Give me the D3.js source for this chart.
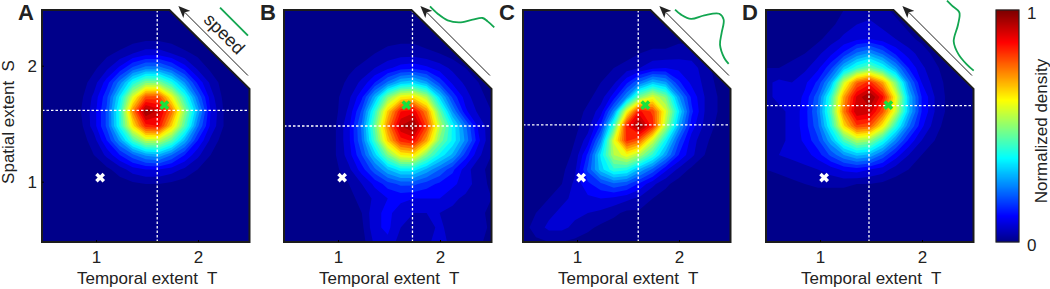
<!DOCTYPE html>
<html>
<head>
<meta charset="utf-8">
<script src="https://cdn.jsdelivr.net/npm/d3@7"></script>
<style>
  html, body { margin: 0; padding: 0; background: #fff; }
  text { font-family: "Liberation Sans", Arial, sans-serif; fill: #222; white-space: pre; }
</style>
</head>
<body>
<div id="chart"></div>
<script>
// density grids, 0-100, 17 rows (top to bottom) by 17 columns (left to right)
var densityA = [
    [0,0,0,0,0,0,0,0,0,0,0,0,0,0,0,0,0],
    [0,0,0,0,0,0,0,0,0,0,0,0,0,0,0,0,0],
    [0,0,0,0,0,0,0,1,2,2,1,0,0,0,0,0,0],
    [0,0,0,0,0,2,4,7,9,9,7,4,2,0,0,0,0],
    [0,0,0,0,2,6,12,20,25,25,20,13,6,2,0,0,0],
    [0,0,0,1,5,13,25,40,50,50,40,27,14,6,1,0,0],
    [0,0,0,2,8,18,36,60,80,81,62,42,23,9,2,0,0],
    [0,0,0,3,9,20,41,75,100,93,77,52,30,11,3,0,0],
    [0,0,0,2,9,20,40,65,85,87,67,46,24,10,3,0,0],
    [0,0,0,1,5,15,28,44,56,56,46,30,15,6,1,0,0],
    [0,0,0,0,3,8,15,22,28,30,23,15,8,3,0,0,0],
    [0,0,0,0,0,2,5,9,11,11,9,6,3,0,0,0,0],
    [0,0,0,0,0,0,1,2,3,3,2,1,0,0,0,0,0],
    [0,0,0,0,0,0,0,0,0,0,0,0,0,0,0,0,0],
    [0,0,0,0,0,0,0,0,0,0,0,0,0,0,0,0,0],
    [0,0,0,0,0,0,0,0,0,0,0,0,0,0,0,0,0],
    [0,0,0,0,0,0,0,0,0,0,0,0,0,0,0,0,0]
];
var densityB = [
    [0,0,0,0,0,0,0,0,0,0,0,0,0,0,0,0,0],
    [0,0,0,0,0,0,0,0,0,0,0,0,0,0,0,0,0],
    [0,0,0,0,0,0,0,1,2,2,2,1,1,0,0,0,0],
    [0,0,0,0,0,0,1,3,4,5,5,4,3,1,0,0,0],
    [0,0,0,0,0,2,4,7,10,13,14,12,9,6,3,1,0],
    [0,0,0,0,1,4,8,15,24,32,34,28,18,10,6,3,1],
    [0,0,0,0,2,6,14,30,50,63,65,55,34,18,9,4,2],
    [0,0,0,0,2,8,20,42,68,87,90,75,48,27,12,6,3],
    [0,0,0,0,3,10,24,48,75,95,100,82,56,38,24,10,4],
    [0,0,0,0,3,10,23,44,68,85,88,72,50,38,26,12,3],
    [0,0,0,0,3,9,19,33,50,63,65,50,38,30,17,8,3],
    [0,0,0,0,2,6,13,22,31,37,37,30,23,16,9,4,2],
    [0,0,0,0,1,3,7,12,17,20,20,17,14,12,9,5,2],
    [0,0,0,0,0,2,4,8,11,12,11,11,11,8,6,5,3],
    [0,0,0,0,0,1,3,10,12,9,7,7,7,6,5,4,2],
    [0,0,0,0,0,0,2,10,12,7,5,5,8,5,5,5,2],
    [0,0,0,0,0,0,1,8,10,5,4,5,11,4,5,4,1]
];
var densityC = [
    [0,0,0,0,0,0,0,0,0,0,0,0,0,0,0,0,0],
    [0,0,0,0,0,0,0,0,0,0,0,0,0,0,0,0,0],
    [0,0,0,0,0,0,0,0,0,0,1,1,2,2,0,0,0],
    [0,0,0,0,0,0,0,1,1,3,4,4,5,5,2,0,0],
    [0,0,0,0,0,0,1,3,5,7,10,11,10,9,5,1,0],
    [0,0,0,0,0,1,3,6,14,24,32,28,16,10,6,2,0],
    [0,0,0,0,0,2,5,13,27,50,60,50,28,14,7,3,0],
    [0,0,0,0,1,4,9,26,62,88,82,60,36,16,7,3,0],
    [0,0,0,0,2,5,16,44,86,100,85,55,30,13,6,2,0],
    [0,0,0,1,3,9,26,60,84,78,58,38,20,9,4,1,0],
    [0,0,0,1,4,16,36,55,62,54,42,28,15,8,3,0,0],
    [0,0,0,2,6,20,33,42,40,30,22,12,6,2,1,0,0],
    [0,0,1,3,8,14,18,22,20,14,8,4,1,0,0,0,0],
    [0,1,3,6,8,10,11,10,8,6,3,1,0,0,0,0,0],
    [1,3,6,8,8,7,6,4,2,2,0,0,0,0,0,0,0],
    [1,5,8,8,6,4,2,1,0,0,0,0,0,0,0,0,0],
    [0,2,3,3,2,1,0,0,0,0,0,0,0,0,0,0,0]
];
var densityD = [
    [0,0,0,0,0,1,3,4,5,4,2,1,0,0,0,0,0],
    [0,0,0,0,1,2,5,7,8,6,4,2,0,0,0,0,0],
    [0,0,0,1,2,5,8,10,11,9,7,4,2,0,0,0,0],
    [1,1,2,3,6,10,16,24,28,22,14,9,5,2,0,0,0],
    [3,3,4,6,10,18,32,42,48,40,28,15,8,4,1,0,0],
    [6,8,7,10,16,30,58,78,85,72,50,25,11,5,2,0,0],
    [6,8,8,12,22,42,72,92,100,88,62,32,15,7,2,0,0],
    [4,6,8,13,24,45,76,95,93,80,58,32,15,7,2,0,0],
    [4,6,8,13,22,40,66,82,80,64,42,24,12,5,1,0,0],
    [4,6,8,12,18,30,45,55,52,40,26,14,7,3,0,0,0],
    [4,7,8,9,13,20,27,32,30,22,13,7,3,1,0,0,0],
    [3,4,5,6,7,9,12,13,11,9,5,3,1,0,0,0,0],
    [0,1,2,3,4,4,4,3,3,2,1,0,0,0,0,0,0],
    [0,0,0,0,0,0,0,0,0,0,0,0,0,0,0,0,0],
    [0,0,0,0,0,0,0,0,0,0,0,0,0,0,0,0,0],
    [0,0,0,0,0,0,0,0,0,0,0,0,0,0,0,0,0],
    [0,0,0,0,0,0,0,0,0,0,0,0,0,0,0,0,0]
];

var panelNames = ["A", "B", "C", "D"];
var panelDensity = [densityA, densityB, densityC, densityD];

// medians (dashed lines) per panel, in T and S units
var medianT = [1.6, 1.73, 1.6, 1.48];
var medianS = [1.615, 1.48, 1.49, 1.655];

// the two crosses
var whiteCross = [1.04, 1.035];
var greenCross = [1.67, 1.66];

// speed arrow, in T and S units
var arrowT = [2.49, 1.87];
var arrowS = [1.915, 2.46];

// green speed profiles, in T and S units
var speedT = [
    [2.216, 2.49],
    [1.902, 1.977, 2.075, 2.189, 2.32, 2.418, 2.467, 2.532],
    [1.961, 2.02, 2.118, 2.248, 2.395, 2.438, 2.418, 2.402, 2.444, 2.487],
    [2.245, 2.294, 2.366, 2.353, 2.311, 2.36, 2.441, 2.507]
];
var speedS = [
    [2.5, 2.259],
    [2.511, 2.448, 2.391, 2.373, 2.397, 2.411, 2.382, 2.33],
    [2.483, 2.44, 2.403, 2.434, 2.448, 2.397, 2.282, 2.181, 2.066, 2.015],
    [2.56, 2.517, 2.459, 2.353, 2.209, 2.095, 2.009, 1.957]
];

var tTicks = [1, 2];
var sTicks = [1, 2];
var barTicks = [0, 1];
var domainT = [0.47, 2.505];
var domainS = [0.48, 2.48];
var cornerT = 1.72; // where the cut corner leaves the top edge
var cornerS = 1.8;  // where it meets the right edge

var jetStops = [0, 0.11, 0.36, 0.61, 0.86, 1];
var jetColors = ["#00008a", "#0000ff", "#00ffff", "#ffff00", "#ff0000", "#7a0000"];

var svgWidth = 1050;
var svgHeight = 289;
var panelLeft = [42, 284, 523, 766];
var panelWidth = 207.5;
var plotTop = 10;
var plotBottom = 242;

var jet = d3.scaleLinear().domain(jetStops).range(jetColors);

var svg = d3.select("#chart")
    .append("svg")
    .attr("width", svgWidth)
    .attr("height", svgHeight)
    .style("display", "block");

var defs = svg.append("defs");

defs.append("marker")
    .attr("id", "head")
    .attr("viewBox", "0 0 12 10")
    .attr("refX", 3)
    .attr("refY", 5)
    .attr("markerWidth", 12)
    .attr("markerHeight", 10)
    .attr("markerUnits", "userSpaceOnUse")
    .attr("orient", "auto")
    .append("path")
    .attr("d", "M12,5L0,0L3,5L0,10Z")
    .attr("fill", "#222");

// levels of the filled contours
var levels = d3.range(3, 100, 4);
var contours = d3.contours()
    .size([17, 17])
    .thresholds(levels);

panelNames.forEach(function (name, p) {
    var x = d3.scaleLinear()
        .domain(domainT)
        .range([panelLeft[p], panelLeft[p] + panelWidth]);
    var y = d3.scaleLinear()
        .domain(domainS)
        .range([plotBottom, plotTop]);

    // grid node index to T and S
    var nodeT = d3.scaleLinear().domain([0.5, 16.5]).range(domainT);
    var nodeS = d3.scaleLinear().domain([0.5, 16.5]).range([domainS[1], domainS[0]]);

    var path = d3.geoPath(d3.geoTransform({
        point: function (a, b) {
            this.stream.point(x(nodeT(a)), y(nodeS(b)));
        }
    }));

    var outline = d3.line()([
        [x(domainT[0]), y(domainS[0])],
        [x(domainT[0]), y(domainS[1])],
        [x(cornerT), y(domainS[1])],
        [x(domainT[1]), y(cornerS)],
        [x(domainT[1]), y(domainS[0])]
    ]) + "Z";

    defs.append("clipPath")
        .attr("id", "clip" + name)
        .append("path")
        .attr("d", outline);

    var group = svg.append("g").attr("class", "panel-" + name);

    var plot = group.append("g").attr("clip-path", "url(#clip" + name + ")");

    plot.append("path")
        .attr("d", outline)
        .attr("fill", jet(0));

    plot.selectAll("path.band")
        .data(contours(panelDensity[p].flat()))
        .enter()
        .append("path")
        .attr("class", "band")
        .attr("d", path)
        .attr("fill", d => jet(d.value / 100));

    // dashed median lines
    plot.append("line")
        .attr("x1", x(medianT[p]))
        .attr("x2", x(medianT[p]))
        .attr("y1", plotTop)
        .attr("y2", plotBottom)
        .attr("stroke", "#fff")
        .attr("stroke-width", 1.3)
        .attr("stroke-dasharray", "2.5,2");
    plot.append("line")
        .attr("x1", panelLeft[p])
        .attr("x2", panelLeft[p] + panelWidth)
        .attr("y1", y(medianS[p]))
        .attr("y2", y(medianS[p]))
        .attr("stroke", "#fff")
        .attr("stroke-width", 1.3)
        .attr("stroke-dasharray", "2.5,2");

    group.append("path")
        .attr("d", outline)
        .attr("fill", "none")
        .attr("stroke", "#1c1c1c")
        .attr("stroke-width", 2);

    // axes
    group.append("g")
        .attr("transform", `translate(0, ${plotBottom})`)
        .call(d3.axisBottom(x).tickValues(tTicks).tickFormat(d3.format("d")).tickSizeInner(-2).tickSizeOuter(0).tickPadding(9))
        .call(g => g.select(".domain").remove())
        .call(g => g.selectAll("text").attr("font-size", 17));

    if (p == 0) {
        group.append("g")
            .attr("transform", `translate(${panelLeft[p]}, 0)`)
            .call(d3.axisLeft(y).tickValues(sTicks).tickFormat(d3.format("d")).tickSizeInner(-2).tickSizeOuter(0).tickPadding(5))
            .call(g => g.select(".domain").remove())
            .call(g => g.selectAll("text").attr("font-size", 17));

        group.append("text")
            .attr("transform", `translate(14, ${(plotTop + plotBottom) / 2 - 4}) rotate(-90)`)
            .attr("text-anchor", "middle")
            .attr("font-size", 17)
            .text("Spatial extent  S");
    }

    group.append("text")
        .attr("x", panelLeft[p] + panelWidth / 2 + 1.5)
        .attr("y", 284)
        .attr("text-anchor", "middle")
        .attr("font-size", 17)
        .text("Temporal extent  T");

    group.append("text")
        .attr("x", panelLeft[p] - 24)
        .attr("y", 20)
        .attr("font-size", 22)
        .attr("font-weight", "bold")
        .text(name);

    // crosses
    var cross = d3.symbol().type(d3.symbolCross).size(60);
    group.append("path")
        .attr("d", cross)
        .attr("transform", `translate(${x(whiteCross[0])}, ${y(whiteCross[1])}) rotate(45)`)
        .attr("fill", "#fff");
    group.append("path")
        .attr("d", cross)
        .attr("transform", `translate(${x(greenCross[0])}, ${y(greenCross[1])}) rotate(45)`)
        .attr("fill", "#19e23c");

    // speed arrow
    group.append("line")
        .attr("x1", x(arrowT[0]))
        .attr("y1", y(arrowS[0]))
        .attr("x2", x(arrowT[1]))
        .attr("y2", y(arrowS[1]))
        .attr("stroke", "#222")
        .attr("stroke-width", 1)
        .attr("marker-end", "url(#head)");

    // speed profile
    var profile = d3.line()
        .x(d => x(d[0]))
        .y(d => y(d[1]))
        .curve(d3.curveCatmullRom);
    group.append("path")
        .attr("d", profile(d3.zip(speedT[p], speedS[p])))
        .attr("fill", "none")
        .attr("stroke", "#12a650")
        .attr("stroke-width", 1.8);

    if (p == 0) {
        group.append("text")
            .attr("transform", `translate(${x(2.216)}, ${y(2.237)}) rotate(45)`)
            .attr("text-anchor", "middle")
            .attr("font-size", 18)
            .text("speed");
    }
});

// colour bar
var barLeft = 996;
var barWidth = 23;
var barY = d3.scaleLinear().domain([0, 1]).range([plotBottom, plotTop]);
var barSteps = d3.range(0, 1, 1 / 232);

svg.append("g").selectAll("rect")
    .data(barSteps)
    .enter()
    .append("rect")
    .attr("x", barLeft)
    .attr("y", d => barY(d) - 1.2)
    .attr("width", barWidth)
    .attr("height", 1.4)
    .attr("fill", d => jet(d));

svg.append("rect")
    .attr("x", barLeft)
    .attr("y", plotTop)
    .attr("width", barWidth)
    .attr("height", plotBottom - plotTop)
    .attr("fill", "none")
    .attr("stroke", "#222")
    .attr("stroke-width", 1.2);

svg.append("g")
    .attr("transform", `translate(${barLeft + barWidth}, 3)`)
    .call(d3.axisRight(barY).tickValues(barTicks).tickFormat(d3.format("d")).tickSize(0).tickPadding(8))
    .call(g => g.select(".domain").remove())
    .call(g => g.selectAll("text").attr("font-size", 17));

svg.append("text")
    .attr("transform", `translate(1047, ${(plotTop + plotBottom) / 2 + 5}) rotate(-90)`)
    .attr("text-anchor", "middle")
    .attr("font-size", 17)
    .text("Normalized density");
</script>
</body>
</html>
